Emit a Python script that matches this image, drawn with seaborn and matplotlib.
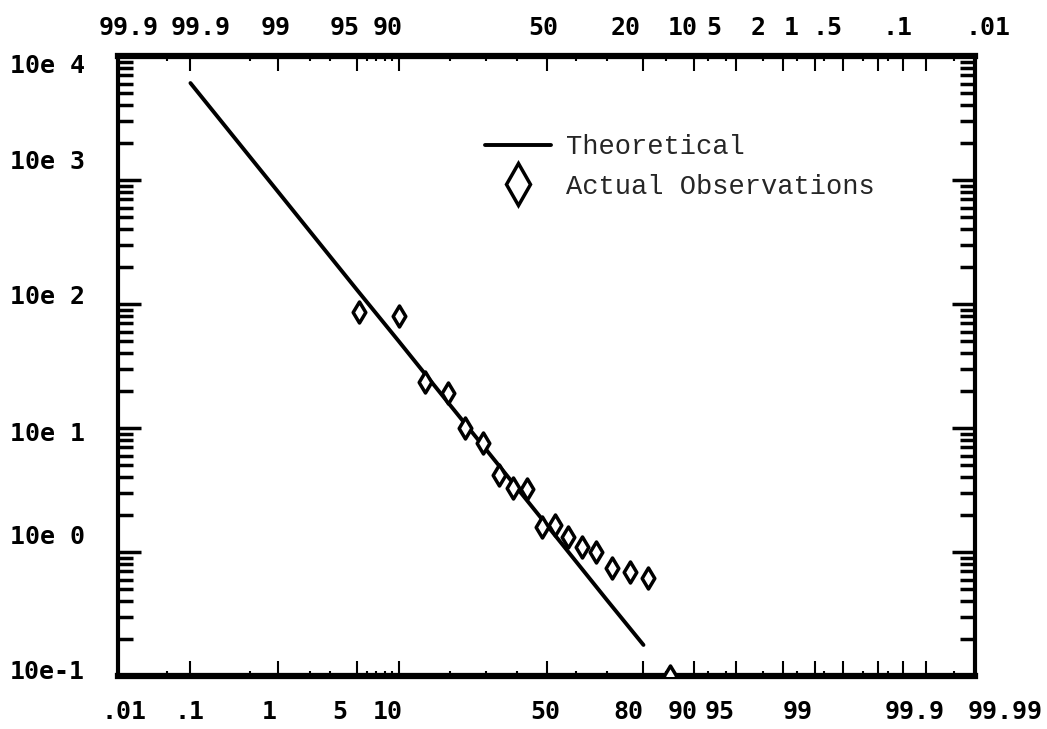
import numpy as np
import matplotlib
matplotlib.use("Agg")
import matplotlib.pyplot as plt
from matplotlib.lines import Line2D
from matplotlib.ticker import NullFormatter, LogLocator
import seaborn as sns
from statistics import NormalDist

# ---------------- data ----------------
theo_pct = [0.1, 1, 5, 10, 20, 30, 50, 70, 80]
theo_val = [6050, 796, 130, 50, 15.5, 6.7, 1.66, 0.41, 0.178]

obs_pct = [5.2, 10.0, 14.6, 19.6, 24.0, 29.1, 34.0, 38.6, 43.3, 48.4,
           52.9, 57.4, 62.1, 66.6, 71.5, 76.6, 81.1, 85.8]
obs_val = [86, 80, 23.5, 19.1, 10.0, 7.6, 4.2, 3.3, 3.2, 1.59,
           1.65, 1.32, 1.10, 1.0, 0.74, 0.69, 0.62, 0.1]

x_major = [0.1, 1, 5, 10, 50, 80, 90, 95, 98, 99, 99.5, 99.8, 99.9, 99.95]
x_minor = [0.05, 0.5, 2, 3, 6, 7, 8, 9, 20, 30, 40, 60, 70, 85,
           92, 94, 97, 98.5, 99.2, 99.7, 99.85, 99.98]

bottom_labels = [".01", ".1", "1", "5", "10", "50", "80", "90", "95", "99", "99.9", "99.99"]
top_labels = ["99.9", "99.9", "99", "95", "90", "50", "20", "10", "5", "2", "1", ".5", ".1", ".01"]
y_labels = ["10e 4", "10e 3", "10e 2", "10e 1", "10e 0", "10e-1"]

legend_labels = ["Theoretical", "Actual Observations"]

# label placement (axes fraction) -- layout only
bottom_label_x = [0.007, 0.083, 0.177, 0.259, 0.315, 0.498, 0.595, 0.659, 0.702, 0.793, 0.929, 1.035]
top_label_x = [0.012, 0.096, 0.184, 0.265, 0.315, 0.496, 0.592, 0.659, 0.695, 0.747, 0.786, 0.828, 0.909, 1.015]
y_label_y = [0.984, 0.829, 0.611, 0.390, 0.224, 0.006]

# ---------------- style ----------------
sns.set_theme(style="white")
plt.rcParams["font.family"] = ["DejaVu Sans Mono", "DejaVu Sans"]

nd = NormalDist()
_f = np.vectorize(lambda v: nd.inv_cdf(v / 100.0), otypes=[float])
_i = np.vectorize(lambda v: nd.cdf(v) * 100.0, otypes=[float])


def fwd(p):
    p = np.clip(np.asarray(p, dtype=float), 1e-9, 100 - 1e-9)
    return _f(p)


def inv(z):
    return _i(np.asarray(z, dtype=float))


fig = plt.figure(figsize=(10.47, 7.29), dpi=100)
ax = fig.add_axes([118 / 1047, 1 - 676 / 729, 857 / 1047, 620 / 729])
ax.set_xscale("function", functions=(fwd, inv))
ax.set_yscale("log")

sns.lineplot(x=theo_pct, y=theo_val, color="black", linewidth=2.8, ax=ax,
             sort=False, estimator=None, legend=False, zorder=2)
sns.scatterplot(x=obs_pct, y=obs_val, marker="d", s=115, color="white",
                edgecolor="black", linewidth=2.5, ax=ax, legend=False, zorder=3)

ax.set_xlim(0.01, 99.99)
ax.set_ylim(0.1, 1e4)
ax.set_xlabel("")
ax.set_ylabel("")

ax.set_xticks(x_major)
ax.set_xticks(x_minor, minor=True)
ax.xaxis.set_major_formatter(NullFormatter())
ax.xaxis.set_minor_formatter(NullFormatter())
ax.yaxis.set_major_locator(LogLocator(base=10, numticks=20))
ax.yaxis.set_minor_locator(LogLocator(base=10, subs=np.arange(2, 10), numticks=20))
ax.yaxis.set_major_formatter(NullFormatter())
ax.yaxis.set_minor_formatter(NullFormatter())

ax.tick_params(axis="x", which="major", direction="in", length=10.5, width=1.5,
               color="black", top=True, bottom=True)
ax.tick_params(axis="x", which="minor", direction="in", length=3.5, width=1.5,
               color="black", top=True, bottom=True)
ax.tick_params(axis="y", which="major", direction="in", length=16.5, width=2.5,
               color="black", left=True, right=True)
ax.tick_params(axis="y", which="minor", direction="in", length=10.5, width=2.5,
               color="black", left=True, right=True)

for side in ["top", "bottom"]:
    ax.spines[side].set_linewidth(4.5)
    ax.spines[side].set_color("black")
for side in ["left", "right"]:
    ax.spines[side].set_linewidth(3)
    ax.spines[side].set_color("black")

lab_kw = dict(family=["DejaVu Sans Mono", "DejaVu Sans"], fontweight="bold",
              fontsize=18, color="black")
for xf, t in zip(bottom_label_x, bottom_labels):
    ax.text(xf, -0.058, t, transform=ax.transAxes, ha="center", va="center",
            clip_on=False, **lab_kw)
for xf, t in zip(top_label_x, top_labels):
    ax.text(xf, 1.045, t, transform=ax.transAxes, ha="center", va="center",
            clip_on=False, **lab_kw)
for yf, t in zip(y_label_y, y_labels):
    ax.text(-0.0385, yf, t, transform=ax.transAxes, ha="right", va="center",
            clip_on=False, **lab_kw)

handles = [
    Line2D([], [], color="black", linewidth=2.8),
    Line2D([], [], color="black", marker="d", markersize=21, markerfacecolor="white",
           markeredgecolor="black", markeredgewidth=2.5, linestyle="none"),
]
leg = ax.legend(handles=handles, labels=legend_labels, loc="upper left",
                bbox_to_anchor=(485 / 1047, 1 - 134 / 729),
                bbox_transform=fig.transFigure, frameon=False, borderpad=0,
                borderaxespad=0, handlelength=2.45, handletextpad=0.55,
                labelspacing=0.5,
                prop=dict(family="Liberation Mono", size=19.5))

fig.savefig("out.png", dpi=100, facecolor="white")
